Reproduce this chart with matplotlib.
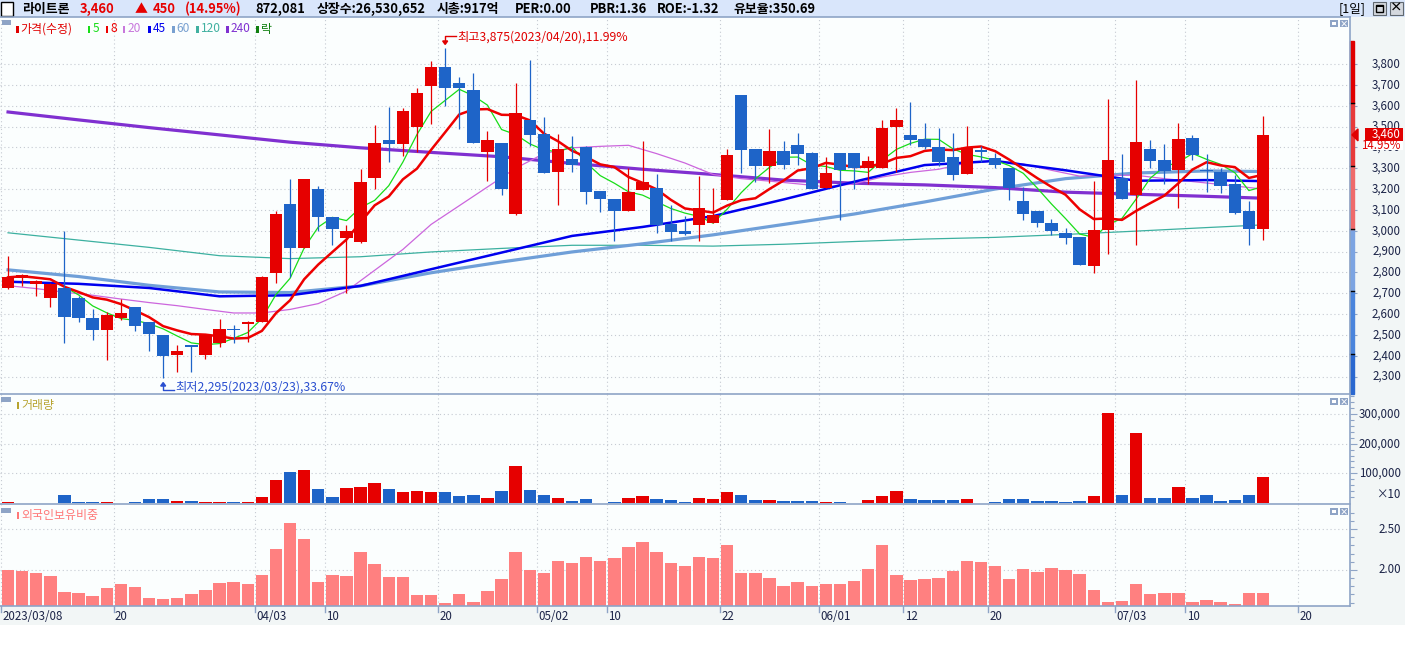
import numpy as np
import pandas as pd
import matplotlib
matplotlib.use("Agg")
import matplotlib.pyplot as plt
from matplotlib.patches import Rectangle, Polygon
from matplotlib.lines import Line2D
from matplotlib.transforms import blended_transform_factory

plt.rcParams['font.family'] = ['Noto Sans CJK KR', 'DejaVu Sans']

# trading days, KRX holidays taken out
holidays = ['2023-05-01', '2023-05-05', '2023-05-29', '2023-06-06']
days = pd.bdate_range('2023-03-08', '2023-07-31')
days = days[~days.isin(pd.to_datetime(holidays))]

opens = [2723, 2774, 2742, 2679, 2723, 2679, 2582, 2523, 2581, 2632,
         2561, 2500, 2402, 2453, 2402, 2461, 2529, 2552, 2562, 2797,
         3126, 2918, 3202, 3066, 2965, 2944, 3252, 3434, 3418, 3500,
         3694, 3784, 3711, 3677, 3379, 3421, 3082, 3532, 3465, 3282,
         3344, 3402, 3189, 3150, 3094, 3195, 3203, 3031, 2997, 3026,
         3036, 3147, 3653, 3392, 3313, 3382, 3411, 3373, 3207, 3373,
         3373, 3300, 3300, 3500, 3460, 3440, 3402, 3353, 3273, 3387,
         3349, 3300, 3144, 3095, 3039, 2991, 2968, 2832, 3002, 3255,
         3171, 3392, 3339, 3292, 3445, 3292, 3284, 3223, 3094, 3010]
highs = [2878, 2790, 2765, 2750, 3000, 2685, 2623, 2610, 2674, 2632,
         2561, 2500, 2452, 2453, 2500, 2574, 2545, 2565, 2784, 3094,
         3247, 3250, 3213, 3066, 3029, 3295, 3508, 3595, 3590, 3687,
         3813, 3875, 3739, 3755, 3478, 3421, 3711, 3819, 3547, 3465,
         3455, 3405, 3189, 3150, 3300, 3429, 3271, 3123, 3071, 3263,
         3203, 3392, 3653, 3392, 3489, 3431, 3468, 3377, 3352, 3373,
         3373, 3360, 3532, 3590, 3619, 3518, 3494, 3470, 3502, 3405,
         3373, 3300, 3211, 3095, 3055, 3013, 2968, 3239, 3631, 3368,
         3723, 3436, 3416, 3518, 3458, 3368, 3300, 3268, 3142, 3549]
lows = [2720, 2736, 2687, 2634, 2462, 2562, 2474, 2378, 2571, 2518,
        2421, 2295, 2324, 2324, 2386, 2442, 2461, 2465, 2560, 2749,
        2776, 2918, 2997, 2929, 2703, 2940, 3199, 3332, 3360, 3378,
        3513, 3598, 3490, 3423, 3239, 3171, 3077, 3408, 3276, 3123,
        3281, 3126, 3090, 2949, 3094, 3195, 2987, 2950, 2980, 2950,
        3036, 3147, 3276, 3232, 3230, 3297, 3316, 3199, 3207, 3050,
        3200, 3226, 3300, 3281, 3413, 3390, 3310, 3244, 3273, 3329,
        3300, 3147, 3050, 3018, 2978, 2936, 2836, 2797, 2889, 3152,
        2929, 3300, 3223, 3111, 3340, 3184, 3182, 3078, 2932, 2953]
closes = [2776, 2787, 2760, 2744, 2587, 2581, 2523, 2594, 2607, 2542,
          2503, 2397, 2423, 2442, 2500, 2529, 2521, 2563, 2776, 3078,
          2918, 3250, 3065, 3010, 3000, 3232, 3421, 3418, 3576, 3663,
          3784, 3687, 3684, 3423, 3436, 3199, 3566, 3461, 3276, 3392,
          3316, 3186, 3152, 3094, 3186, 3236, 3026, 2992, 2983, 3107,
          3073, 3363, 3389, 3313, 3382, 3316, 3368, 3199, 3276, 3292,
          3300, 3334, 3494, 3532, 3436, 3400, 3331, 3268, 3397, 3376,
          3316, 3207, 3082, 3039, 2997, 2965, 2836, 3005, 3339, 3152,
          3426, 3336, 3287, 3440, 3365, 3285, 3216, 3087, 3010, 3460]
# volume in units of 10 shares
volume = [4500, 1100, 1100, 1100, 27000, 4500, 4500, 4500, 1100, 3400,
          13500, 13500, 6700, 6700, 3400, 3400, 3400, 3400, 21000, 78000,
          105000, 111000, 47000, 20000, 51000, 54000, 67000, 47000, 37000, 40000,
          37000, 37000, 25000, 27000, 17000, 40000, 125000, 44000, 27000, 17000,
          6700, 13500, 1100, 3400, 17000, 24000, 13500, 10000, 3400, 17000,
          13500, 38000, 27000, 10000, 10000, 6700, 6700, 6700, 3400, 3400,
          1000, 10000, 25000, 40000, 13500, 10000, 10000, 10000, 13500, 1100,
          3400, 13500, 13500, 6700, 6700, 3400, 6700, 24000, 303000, 27000,
          236000, 17000, 17000, 54000, 17000, 27000, 6700, 10000, 27000, 87208]
foreign = [2.00, 1.99, 1.96, 1.93, 1.73, 1.72, 1.68, 1.78, 1.83, 1.79,
           1.66, 1.64, 1.66, 1.70, 1.75, 1.84, 1.85, 1.83, 1.94, 2.25,
           2.58, 2.38, 1.85, 1.94, 1.93, 2.22, 2.07, 1.91, 1.91, 1.69,
           1.69, 1.59, 1.70, 1.61, 1.74, 1.89, 2.22, 2.00, 1.96, 2.11,
           2.09, 2.16, 2.11, 2.15, 2.28, 2.34, 2.22, 2.09, 2.05, 2.16,
           2.15, 2.31, 1.96, 1.96, 1.90, 1.80, 1.85, 1.80, 1.83, 1.83,
           1.86, 2.01, 2.31, 1.94, 1.88, 1.89, 1.90, 1.99, 2.11, 2.10,
           2.05, 1.89, 2.01, 1.98, 2.02, 2.00, 1.95, 1.75, 1.61, 1.62,
           1.83, 1.70, 1.72, 1.72, 1.61, 1.63, 1.61, 1.58, 1.72, 1.72]

# longer moving averages (they need history before 03/08)
ma_idx = [0, 5, 10, 15, 20, 25, 30, 35, 40, 45, 50, 55, 60, 65, 70, 75, 80, 85, 89]
ma45 = [2755, 2745, 2725, 2685, 2690, 2735, 2815, 2895, 2975, 3018,
        3070, 3150, 3235, 3315, 3335, 3290, 3240, 3243, 3238]
ma60 = [2812, 2780, 2738, 2706, 2703, 2735, 2798, 2850, 2898, 2937,
        2980, 3030, 3080, 3138, 3200, 3250, 3277, 3287, 3284]
ma120 = [2990, 2955, 2920, 2880, 2866, 2875, 2898, 2915, 2930, 2930,
         2926, 2935, 2948, 2960, 2968, 2982, 2998, 3015, 3028]
ma240 = [3570, 3532, 3495, 3460, 3425, 3398, 3376, 3355, 3323, 3295,
         3270, 3243, 3228, 3220, 3207, 3185, 3175, 3165, 3156]
ma20_idx = [0, 2, 4, 6, 8, 10, 12, 14, 16, 18, 20, 22, 24, 26, 28, 30, 32, 34, 36,
            38, 40, 42, 44, 46, 48, 50, 52, 54, 56, 58, 60, 62, 64, 66, 68, 70,
            72, 74, 76, 78, 80, 82, 84, 86, 89]
ma20 = [2736, 2722, 2705, 2690, 2672, 2655, 2640, 2622, 2605, 2605, 2622, 2650,
        2710, 2810, 2910, 3030, 3120, 3210, 3300, 3370, 3398, 3405, 3410, 3370,
        3325, 3270, 3250, 3238, 3225, 3211, 3225, 3258, 3280, 3295, 3325, 3335,
        3320, 3290, 3262, 3266, 3266, 3250, 3236, 3222, 3200]

tick_days = ['2023-03-08', '2023-03-20', '2023-04-03', '2023-04-10', '2023-04-20',
             '2023-05-02', '2023-05-10', '2023-05-22', '2023-06-01', '2023-06-12',
             '2023-06-20', '2023-07-03', '2023-07-10', '2023-07-20']
tick_labels = ['2023/03/08', '20', '04/03', '10', '20', '05/02', '10', '22',
               '06/01', '12', '20', '07/03', '10', '20']

RED = '#e60000'
BLUE = '#1e64c8'
AXC = '#8ea4c6'
TXT = '#1c2448'
GRID = '#c5cad2'

W, H = 1405, 648
fig = plt.figure(figsize=(W / 100, H / 100), dpi=100, facecolor='white')


def fx(x):
    return x / W


def fy(y):
    return 1 - y / H


def frect(x0, y0, x1, y1, **kw):
    fig.patches.append(Rectangle((fx(x0), fy(y1)), (x1 - x0) / W, (y1 - y0) / H,
                                 transform=fig.transFigure, **kw))


def ftext(x, y, s, **kw):
    kw.setdefault('va', 'center')
    fig.text(fx(x), fy(y), s, **kw)


def make_ax(top, bottom):
    ax = fig.add_axes([0, fy(bottom), 1350 / W, (bottom - top) / H])
    ax.set_facecolor('#fbfefe')
    for s in ax.spines.values():
        s.set_visible(False)
    ax.set_xlim(-0.571, 95.17)
    ax.set_xticks([])
    ax.yaxis.tick_right()
    ax.tick_params(axis='y', which='both', direction='out', color=AXC,
                   labelright=False, labelleft=False)
    ax.tick_params(axis='y', which='major', length=5, width=0.8)
    ax.tick_params(axis='y', which='minor', length=3, width=0.8)
    ax.grid(axis='y', which='major', color=GRID, linestyle=(0, (1, 2.5)), linewidth=0.8)
    ax.set_axisbelow(True)
    return ax


def right_labels(ax, vals, fmt):
    tr = blended_transform_factory(fig.transFigure, ax.transData)
    for v in vals:
        ax.text(fx(1401), v, fmt(v), transform=tr, ha='right', va='center',
                fontsize=8.3, color=TXT, clip_on=False)


# backgrounds (kept under the axes)
frect(0, 0, W, 17, facecolor='#d9e6fb', edgecolor='none', zorder=-10)
frect(1350, 17, W, 625, facecolor='#f2f6f6', edgecolor='none', zorder=-10)
frect(0, 606, 1350, 625, facecolor='#f2f6f6', edgecolor='none', zorder=-10)

ax_p = make_ax(17, 394)
ax_v = make_ax(394, 504)
ax_f = make_ax(504, 606)

x = np.arange(len(closes))
pos = {d: i for i, d in enumerate(days)}
tick_pos = [pos[pd.Timestamp(d)] for d in tick_days]
o, h, l, c = map(np.array, (opens, highs, lows, closes))
up = c >= o
col = np.where(up, RED, BLUE)

# ---- price panel
ax_p.set_ylim(2216, 4026)
ax_p.set_yticks(np.arange(2300, 3801, 100))
ax_p.set_yticks(np.arange(2250, 3901, 50), minor=True)
for t in tick_pos:
    for ax in (ax_p, ax_v, ax_f):
        ax.axvline(t - 0.5, color=GRID, linestyle=(0, (1, 2.5)), linewidth=0.8, zorder=0.5)

ma5 = pd.Series(closes).rolling(5, min_periods=1).mean()
ma8 = pd.Series(closes).rolling(8, min_periods=1).mean()
ax_p.plot(ma_idx, ma120, color='#3cb0a0', lw=0.9, zorder=2)
ax_p.plot(ma_idx, ma60, color='#6f9fd8', lw=2.3, zorder=2)
ax_p.plot(ma_idx, ma240, color='#8030d0', lw=2.3, zorder=2)
ax_p.plot(ma20_idx, ma20, color='#cc66dd', lw=0.9, zorder=2)
ax_p.plot(ma_idx, ma45, color='#0000ee', lw=1.8, zorder=2)
ax_p.plot(x, ma5, color='#18dd18', lw=0.9, zorder=2)
ax_p.plot(x, ma8, color='#ee0000', lw=1.8, zorder=2)

ax_p.vlines(x, l, h, colors=col, lw=0.9, zorder=3)
body_lo = np.minimum(o, c)
body_h = np.maximum(np.abs(c - o), 5)
ax_p.bar(x, body_h, bottom=body_lo, width=0.88, color=col, zorder=4)

right_labels(ax_p, np.arange(2300, 3801, 100), lambda v: f'{v:,}')

# ---- volume panel
ax_v.set_ylim(-3000, 367000)
ax_v.set_yticks([100000, 200000, 300000])
ax_v.set_yticks(np.arange(20000, 360001, 20000), minor=True)
ax_v.bar(x, volume, width=0.88, color=col, zorder=3)
right_labels(ax_v, [100000, 200000, 300000], lambda v: f'{v:,}')
ftext(1401, 495, '×10', ha='right', fontsize=8.3, color=TXT)

# ---- foreign ownership panel
fbase = 1.558
ax_f.set_ylim(fbase, 2.807)
ax_f.set_yticks([2.0, 2.5])
ax_f.set_yticks(np.arange(1.6, 2.75, 0.1), minor=True)
ax_f.bar(x, np.array(foreign) - fbase, bottom=fbase, width=0.88, color='#ff8080', zorder=3)
right_labels(ax_f, [2.0, 2.5], lambda v: f'{v:.2f}')

# panel borders
for yy in (17, 394, 504, 606):
    fig.add_artist(Line2D([0, fx(1350)], [fy(yy), fy(yy)], color=AXC, lw=1.2,
                          transform=fig.transFigure))
fig.add_artist(Line2D([fx(1350), fx(1350)], [fy(17), fy(606)], color=AXC, lw=1.2,
                      transform=fig.transFigure))

# date axis
trd = blended_transform_factory(ax_f.transData, fig.transFigure)
for t, lab in zip(tick_pos, tick_labels):
    ax_f.add_line(Line2D([t - 0.5, t - 0.5], [fy(606), fy(612)], color=AXC, lw=1,
                         transform=trd, clip_on=False))
    ax_f.text(t - 0.42, fy(617), lab, transform=trd, ha='left', va='center',
              fontsize=8.3, color=TXT, clip_on=False)

# price band bar on the axis (limit prices in 10% steps from previous close)
prev = closes[-2]
bands = [round(prev * k) for k in (0.7, 0.8, 0.9, 1.0, 1.1, 1.2, 1.3)]
band_cols = ['#2a68d0', '#4a84dc', '#7ca4e2', '#ef6a6a', '#e83a3a', '#e00000']
trb = blended_transform_factory(ax_p.transAxes, ax_p.transData)
for lo_, hi_, bc in zip(bands[:-1], bands[1:], band_cols):
    ax_p.add_patch(Rectangle((1.0, max(lo_, 2216)), 3.5 / 1350, hi_ - max(lo_, 2216),
                             transform=trb, color=bc, clip_on=False, zorder=6))
for b in bands[1:-1]:
    ax_p.add_line(Line2D([1.0, 1.0 + 4 / 1350], [b, b], color='black', lw=1,
                         transform=trb, clip_on=False, zorder=7))

# current price marker
last = closes[-1]
chg = last - prev
pct = chg / prev * 100
_, ly = ax_p.transData.transform((0, last))
ly = H - ly
fig.patches.append(Polygon([(fx(1352), fy(ly)), (fx(1358), fy(ly - 6)), (fx(1358), fy(ly + 6))],
                           closed=True, transform=fig.transFigure, color='#e00000'))
frect(1365, ly - 7, 1403, ly + 6, facecolor='#e00000', edgecolor='none')
ftext(1401, ly - 0.5, f'{last:,}', ha='right', fontsize=8.3, color='white')
frect(1364, ly + 6, 1403, ly + 15, facecolor='white', edgecolor='none')
ftext(1401, ly + 10.5, f'{pct:.2f}%', ha='right', fontsize=8.3, color='#e00000')

# high / low notes
hi_i = int(np.argmax(highs))
lo_i = int(np.argmin(lows))
hx, hy = ax_p.transData.transform((hi_i, highs[hi_i]))
hy = H - hy
fig.add_artist(Line2D([fx(hx + 11), fx(hx), fx(hx)], [fy(hy - 12), fy(hy - 12), fy(hy - 7)],
                      color='#e00000', lw=1, transform=fig.transFigure))
fig.patches.append(Polygon([(fx(hx - 2.5), fy(hy - 7.5)), (fx(hx + 2.5), fy(hy - 7.5)),
                            (fx(hx), fy(hy - 4))], transform=fig.transFigure, color='#e00000'))
ftext(hx + 12, hy - 11.5,
      f'최고{highs[hi_i]:,}({days[hi_i]:%Y/%m/%d}),{(highs[hi_i] - last) / last * 100:.2f}%',
      ha='left', fontsize=8.8, color='#e00000')
lx, lyy = ax_p.transData.transform((lo_i, lows[lo_i]))
lyy = H - lyy
fig.add_artist(Line2D([fx(lx), fx(lx), fx(lx + 11)], [fy(lyy + 8), fy(lyy + 12), fy(lyy + 12)],
                      color='#2a4fd0', lw=1, transform=fig.transFigure))
fig.patches.append(Polygon([(fx(lx - 2.5), fy(lyy + 8.5)), (fx(lx + 2.5), fy(lyy + 8.5)),
                            (fx(lx), fy(lyy + 5))], transform=fig.transFigure, color='#2a4fd0'))
ftext(lx + 12, lyy + 9.5,
      f'최저{lows[lo_i]:,}({days[lo_i]:%Y/%m/%d}),{(last - lows[lo_i]) / last * 100:.2f}%',
      ha='left', fontsize=8.8, color='#2a4fd0')

# legends
frect(2, 20, 11, 25, facecolor=AXC, edgecolor='none')
for yy in (397, 508):
    frect(1, yy, 11, yy + 5, facecolor=AXC, edgecolor='none')
legend_items = [('가격(수정)', '#e00000'), ('5', '#18dd18'), ('8', '#ee0000'),
                ('20', '#c878dc'), ('45', '#0000ee'), ('60', '#78a0d0'),
                ('120', '#40b0a0'), ('240', '#8030d0'), ('락', '#108010')]
legend_x = [16, 88, 106, 123, 148, 172, 196, 226, 256]
for (lab, lc), lx0 in zip(legend_items, legend_x):
    frect(lx0, 26, lx0 + 2.5, 33, facecolor=lc, edgecolor='none')
    ftext(lx0 + 4.5, 29, lab, ha='left', fontsize=8.6, color=lc)
frect(16.5, 402, 19, 409, facecolor='#b8a430', edgecolor='none')
ftext(21, 405.5, '거래량', ha='left', fontsize=8.6, color='#b8a430')
frect(16.5, 512, 19, 519, facecolor='#ff7878', edgecolor='none')
ftext(21, 515.5, '외국인보유비중', ha='left', fontsize=8.6, color='#ff7878')

# small panel buttons
for yy in (20, 398, 508):
    frect(1330, yy, 1338, yy + 7, facecolor=AXC, edgecolor='none')
    frect(1331.8, yy + 1.8, 1336.2, yy + 5.2, facecolor='white', edgecolor='none')
    frect(1340, yy, 1348, yy + 7, facecolor=AXC, edgecolor='none')
    ftext(1344, yy + 3.5, '×', ha='center', fontsize=6, color='white', fontweight='bold')

# header
frect(1, 2, 13, 16, facecolor='white', edgecolor='black', lw=1)
header = [(22, '라이트론', 'black'), (80, f'{last:,}', RED), (135, '▲', RED),
          (153, f'{chg:,}', RED), (185, f'({pct:.2f}%)', RED),
          (255, f'{volume[-1] * 10 + 1:,}', 'black'), (317, '상장수:26,530,652', 'black'),
          (437, '시총:917억', 'black'), (515, 'PER:0.00', 'black'),
          (590, 'PBR:1.36', 'black'), (657, 'ROE:-1.32', 'black'),
          (733, '유보율:350.69', 'black')]
for hx0, s, hc in header:
    ftext(hx0, 9, s, ha='left', fontsize=9.3, color=hc, fontweight='bold')
ftext(1339, 9, '[1일]', ha='left', fontsize=9, color='black')
for bx in (1373, 1390):
    frect(bx, 2, bx + 13, 15, facecolor='#d4d8de', edgecolor='#606870', lw=0.8)
frect(1376, 5.5, 1383, 11.5, facecolor='none', edgecolor='black', lw=1)
frect(1376, 5.5, 1383, 7, facecolor='black', edgecolor='none')
ftext(1396.5, 8.5, '×', ha='center', fontsize=9, color='black', fontweight='bold')

fig.savefig('out.png', dpi=100, facecolor='white')
